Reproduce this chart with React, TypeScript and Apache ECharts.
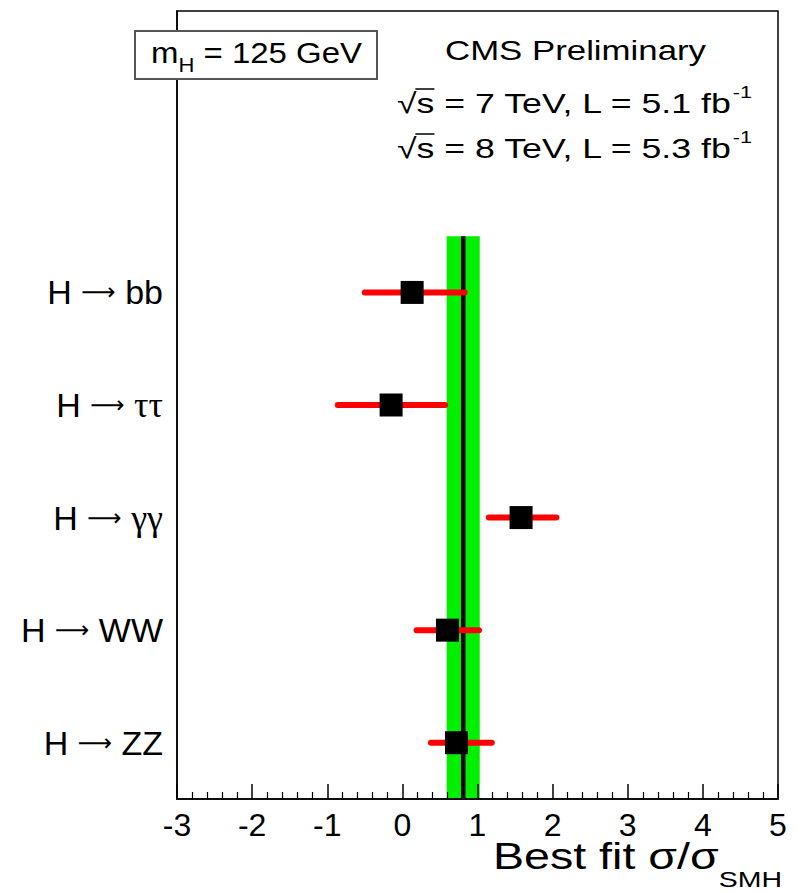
import React, { useEffect, useRef } from "react";
import * as echarts from "echarts";

const FONT = '"Liberation Sans", Arial, Helvetica, sans-serif';
const SERIF = '"Liberation Serif", "DejaVu Serif", serif';
const ARROW_FONT = '"DejaVu Sans", sans-serif';

// channels listed top to bottom
const channels = ["H → bb", "H → ττ", "H → γγ", "H → WW", "H → ZZ"];
const bestFit = [0.13, -0.15, 1.58, 0.6, 0.72];
const errLow = [-0.5, -0.86, 1.15, 0.19, 0.38];
const errHigh = [0.83, 0.57, 2.05, 1.02, 1.19];

const combinedFit = 0.81;
const combinedLow = 0.59;
const combinedHigh = 1.03;

const xMin = -3;
const xMax = 5;
const yMin = 0;
const yMax = 7;

type Seg = { text: string; size: number; dy?: number; family?: string; overline?: boolean };

let measureCtx: CanvasRenderingContext2D | null = null;
function textWidth(s: string, size: number, family: string = FONT) {
  if (!measureCtx) measureCtx = document.createElement("canvas").getContext("2d");
  if (!measureCtx) return s.length * size * 0.55;
  measureCtx.font = `${size}px ${family}`;
  return measureCtx.measureText(s).width;
}

function buildLine(segs: Seg[], left: number, right: number, cy: number) {
  const children: any[] = [];
  let x = 0;
  for (const s of segs) {
    const fam = s.family || FONT;
    const w = textWidth(s.text, s.size, fam);
    children.push({
      type: "text",
      x,
      y: s.dy || 0,
      z: 101,
      style: {
        text: s.text,
        fontSize: s.size,
        fontFamily: fam,
        fill: "#000",
        align: "left",
        verticalAlign: "middle",
      },
    });
    if (s.overline) {
      const oy = -0.5 * s.size;
      children.push({
        type: "line",
        z: 101,
        shape: { x1: x - 1, y1: oy, x2: x + w, y2: oy },
        style: { stroke: "#000", lineWidth: 1.5 },
      });
    }
    x += w;
  }
  const scale = (right - left) / x;
  return {
    type: "group",
    x: left,
    y: cy,
    scaleX: scale,
    z: 101,
    children,
  };
}

export default function App() {
  const ref = useRef<HTMLDivElement>(null);

  useEffect(() => {
    if (!ref.current) return;
    const chart = echarts.init(ref.current, undefined, { renderer: "svg" });

    const n = channels.length;
    const yOf = (i: number) => n - i - 0.5;

    const pointData = bestFit.map((v, i) => [v, yOf(i)]);
    const errData = bestFit.map((_, i) => [errLow[i], errHigh[i], yOf(i)]);

    const graphic: any[] = [
      {
        type: "rect",
        z: 99,
        shape: { x: 135, y: 31, width: 242, height: 48 },
        style: { fill: "#fff", stroke: "#555", lineWidth: 2 },
      },
      buildLine(
        [
          { text: "m", size: 30 },
          { text: "H", size: 20, dy: 12 },
          { text: " = 125 GeV", size: 30 },
        ],
        151,
        362,
        53
      ),
      buildLine([{ text: "CMS Preliminary", size: 28 }], 445, 706, 50),
      buildLine(
        [
          { text: "√", size: 28 },
          { text: "s", size: 28, overline: true },
          { text: " = 7 TeV, L = 5.1 fb", size: 28 },
          { text: "-1", size: 17, dy: -11 },
        ],
        397,
        752,
        103
      ),
      buildLine(
        [
          { text: "√", size: 28 },
          { text: "s", size: 28, overline: true },
          { text: " = 8 TeV, L = 5.3 fb", size: 28 },
          { text: "-1", size: 17, dy: -11 },
        ],
        397,
        752,
        148
      ),
      buildLine(
        [
          { text: "Best fit σ/σ", size: 36 },
          { text: "SMH", size: 22, dy: 23 },
        ],
        493,
        782,
        856
      ),
    ];

    chart.setOption({
      animation: false,
      backgroundColor: "#fff",
      grid: {
        left: 177,
        right: 24,
        top: 11,
        bottom: 94,
        show: true,
        borderColor: "#000",
        borderWidth: 1.5,
        backgroundColor: "transparent",
        z: 10,
      },
      xAxis: {
        type: "value",
        min: xMin,
        max: xMax,
        interval: 1,
        axisLine: { show: true, onZero: false, lineStyle: { color: "#000", width: 1.5 } },
        axisTick: { show: true, inside: true, length: 15, lineStyle: { color: "#000", width: 1.5 } },
        minorTick: { show: true, splitNumber: 5, length: 7, lineStyle: { color: "#000", width: 1.2 } },
        splitLine: { show: false },
        axisLabel: {
          color: "#000",
          fontSize: 32,
          fontFamily: FONT,
          margin: 10,
          showMinLabel: true,
          showMaxLabel: true,
        },
        z: 10,
      },
      yAxis: {
        type: "value",
        min: yMin,
        max: yMax,
        interval: 0.5,
        axisLine: { show: true, onZero: false, lineStyle: { color: "#000", width: 1.5 } },
        axisTick: { show: false },
        splitLine: { show: false },
        axisLabel: {
          margin: 14,
          fontSize: 34,
          fontFamily: FONT,
          color: "#000",
          formatter: (v: number) => {
            const frac = v - Math.floor(v);
            if (Math.abs(frac - 0.5) > 1e-6) return "";
            const idx = n - 1 - Math.floor(v);
            const c = channels[idx];
            if (!c) return "";
            const parts = c.split(" → ");
            const rest = parts[1] || "";
            const greek = /[α-ω]/.test(rest);
            return `{a|${parts[0]} }{r|⟶}{a| }{${greek ? "g" : "a"}|${rest}}`;
          },
          rich: {
            a: { fontSize: 34, fontFamily: FONT, color: "#000" },
            r: { fontSize: 24, fontFamily: ARROW_FONT, color: "#000" },
            g: { fontSize: 36, fontFamily: SERIF, color: "#000" },
          },
        },
        z: 10,
      },
      graphic,
      series: [
        {
          name: "band",
          type: "custom",
          z: 1,
          silent: true,
          data: [[combinedLow, combinedHigh, yMin, 5]],
          renderItem: (_p: any, api: any) => {
            const a = api.coord([api.value(0), api.value(3)]);
            const b = api.coord([api.value(1), api.value(2)]);
            return {
              type: "rect",
              shape: { x: a[0], y: a[1], width: b[0] - a[0], height: b[1] - a[1] },
              style: { fill: "#00f000" },
            };
          },
        },
        {
          name: "combined",
          type: "custom",
          z: 2,
          silent: true,
          data: [[combinedFit, yMin, 5]],
          renderItem: (_p: any, api: any) => {
            const a = api.coord([api.value(0), api.value(2)]);
            const b = api.coord([api.value(0), api.value(1)]);
            return {
              type: "line",
              shape: { x1: a[0], y1: a[1], x2: b[0], y2: b[1] },
              style: { stroke: "#000", lineWidth: 4.5 },
            };
          },
        },
        {
          name: "errors",
          type: "custom",
          z: 3,
          silent: true,
          data: errData,
          renderItem: (_p: any, api: any) => {
            const a = api.coord([api.value(0), api.value(2)]);
            const b = api.coord([api.value(1), api.value(2)]);
            return {
              type: "line",
              shape: { x1: a[0], y1: a[1], x2: b[0], y2: b[1] },
              style: { stroke: "#ff0000", lineWidth: 6, lineCap: "round" },
            };
          },
        },
        {
          name: "bestfit",
          type: "scatter",
          z: 4,
          symbol: "rect",
          symbolSize: 23,
          itemStyle: { color: "#000", opacity: 1 },
          data: pointData,
        },
      ],
    });

    return () => chart.dispose();
  }, []);

  return (
    <div
      ref={ref}
      style={{ position: "fixed", left: 0, top: 0, width: 802, height: 893, background: "#fff" }}
    />
  );
}
